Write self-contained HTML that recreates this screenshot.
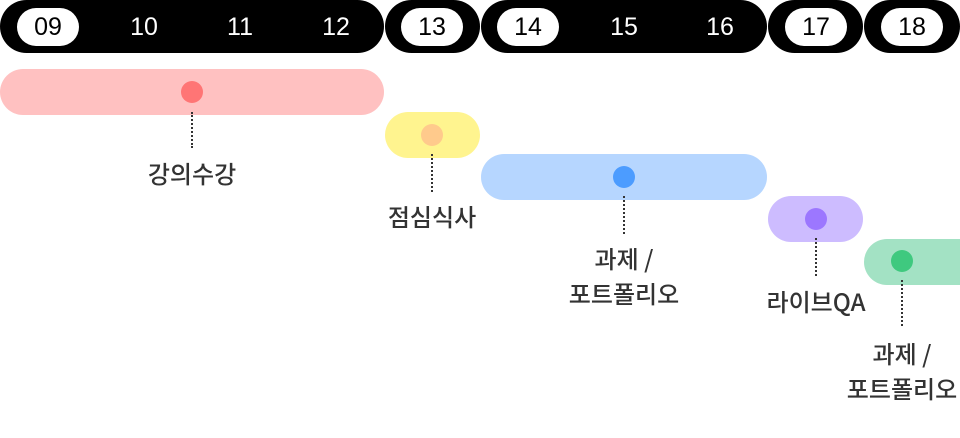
<!DOCTYPE html>
<html><head><meta charset="utf-8"><style>
body{margin:0;width:960px;height:438px;background:#fff;position:relative;overflow:hidden;font-family:"Liberation Sans","Noto Sans CJK KR",sans-serif}
.a{position:absolute}
.blk{background:#000;border-radius:27px;top:0;height:53px}
.n{position:absolute;top:13px;width:60px;margin-left:-30px;text-align:center;font-size:25px;line-height:28px;color:#fff}
.w{position:absolute;top:8px;height:38px;border-radius:19px;background:#fff;color:#000;width:62px;margin-left:-31px;line-height:38px;text-align:center;font-size:25px}
.bar{position:absolute;height:46px;border-radius:23px}
.dot{position:absolute;width:22px;height:22px;border-radius:50%;margin:-11px 0 0 -11px}
.ln{position:absolute;width:0;border-left:2px dotted #333;margin-left:-1px}
.lb{position:absolute;width:200px;margin-left:-100px;text-align:center;font-size:24px;font-weight:500;color:#333;line-height:35px;font-family:"Noto Sans CJK KR","Liberation Sans",sans-serif}
</style></head><body>
<div class="a blk" style="left:0;width:384px"></div>
<div class="a blk" style="left:385px;width:95px"></div>
<div class="a blk" style="left:481px;width:286px"></div>
<div class="a blk" style="left:768px;width:95px"></div>
<div class="a blk" style="left:864px;width:96px"></div>
<div class="w" style="left:48px">09</div>
<div class="n" style="left:144px">10</div>
<div class="n" style="left:240px">11</div>
<div class="n" style="left:336px">12</div>
<div class="w" style="left:432px">13</div>
<div class="w" style="left:528px">14</div>
<div class="n" style="left:624px">15</div>
<div class="n" style="left:720px">16</div>
<div class="w" style="left:816px">17</div>
<div class="w" style="left:912px">18</div>

<div class="bar" style="left:0;width:384px;top:69px;background:#ffc1c1"></div>
<div class="dot" style="left:192px;top:92px;background:#ff7575"></div>
<div class="ln" style="left:192px;top:112px;height:36px"></div>
<div class="lb" style="left:192px;top:155px">강의수강</div>

<div class="bar" style="left:385px;width:95px;top:112px;background:#fff48f"></div>
<div class="dot" style="left:432px;top:135px;background:#ffca8c"></div>
<div class="ln" style="left:432px;top:154px;height:38px"></div>
<div class="lb" style="left:432px;top:198px">점심식사</div>

<div class="bar" style="left:481px;width:286px;top:154px;background:#b6d6ff"></div>
<div class="dot" style="left:624px;top:177px;background:#4c9cff"></div>
<div class="ln" style="left:624px;top:196px;height:38px"></div>
<div class="lb" style="left:624px;top:240px">과제 /<br>포트폴리오</div>

<div class="bar" style="left:768px;width:95px;top:196px;background:#cdbcff"></div>
<div class="dot" style="left:816px;top:219px;background:#9c77ff"></div>
<div class="ln" style="left:816px;top:238px;height:38px"></div>
<div class="lb" style="left:816px;top:283px">라이브QA</div>

<div class="bar" style="left:864px;width:130px;top:239px;background:#a3e2c4"></div>
<div class="dot" style="left:902px;top:261px;background:#3fc97f"></div>
<div class="ln" style="left:902px;top:280px;height:46px"></div>
<div class="lb" style="left:902px;top:335px">과제 /<br>포트폴리오</div>
</body></html>
